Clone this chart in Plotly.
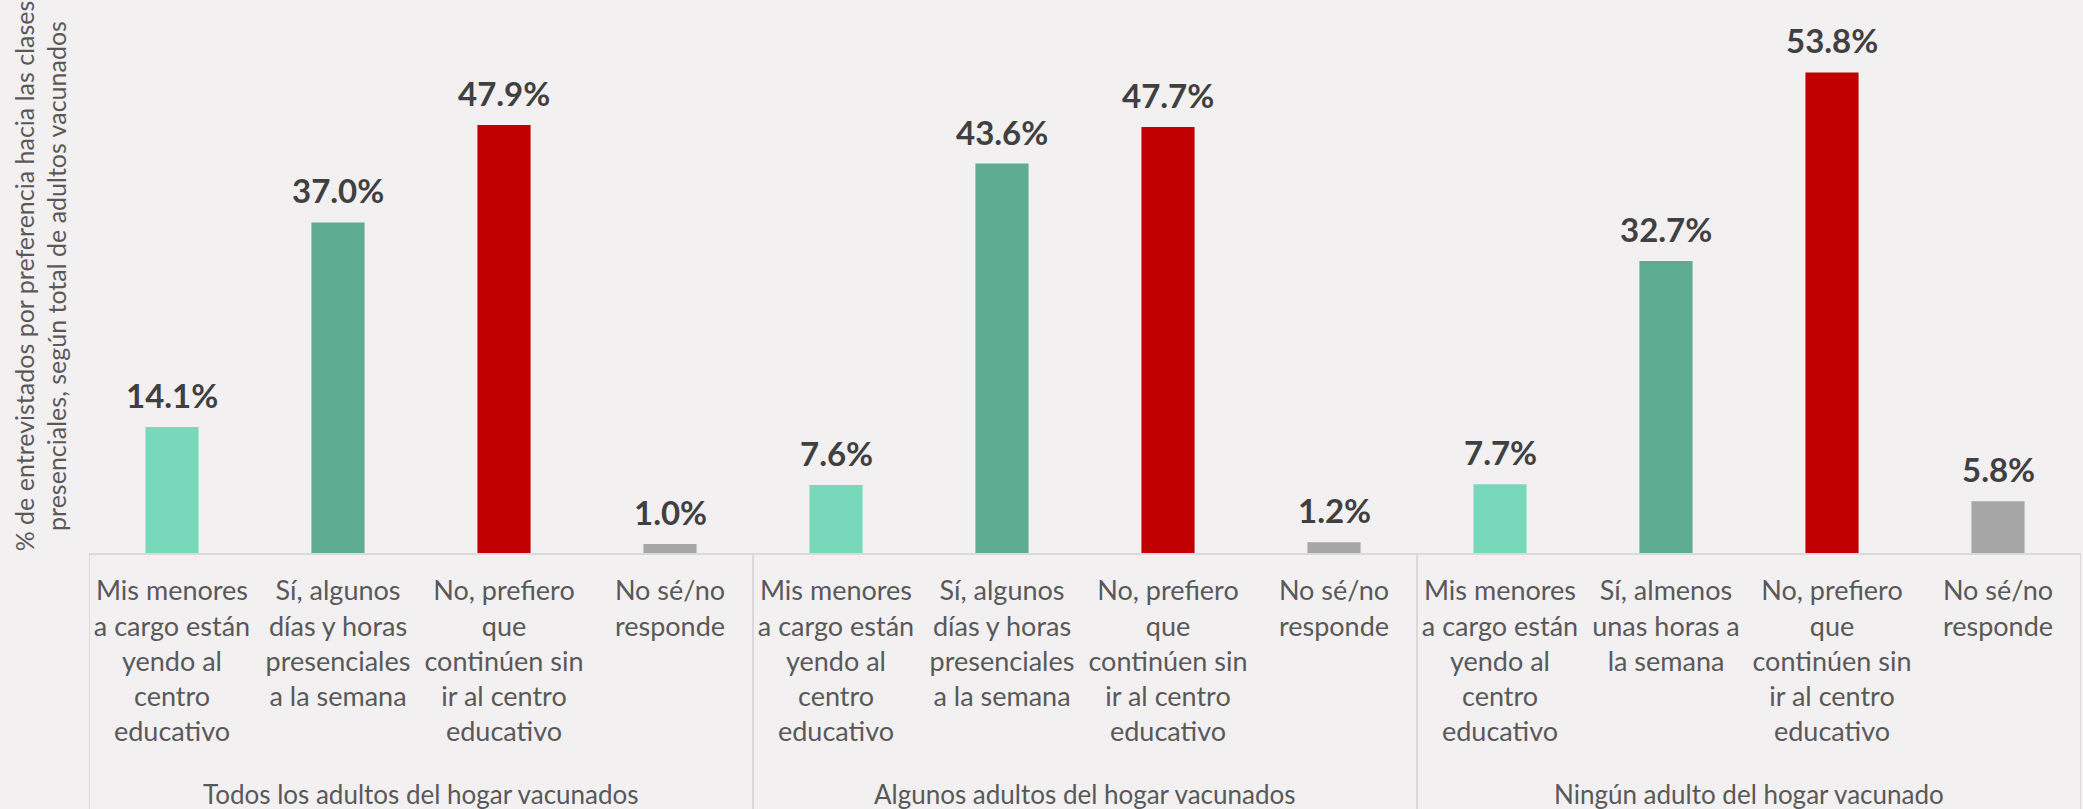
import plotly.graph_objects as go

# ---- data ----
groups = [
    "Todos los adultos del hogar vacunados",
    "Algunos adultos del hogar vacunados",
    "Ningún adulto del hogar vacunado",
]
cat_labels_g1 = [
    "Mis menores<br>a cargo están<br>yendo al<br>centro<br>educativo",
    "Sí, algunos<br>días y horas<br>presenciales<br>a la semana",
    "No, prefiero<br>que<br>continúen sin<br>ir al centro<br>educativo",
    "No sé/no<br>responde",
]
cat_labels_g2 = list(cat_labels_g1)
cat_labels_g3 = [
    "Mis menores<br>a cargo están<br>yendo al<br>centro<br>educativo",
    "Sí, almenos<br>unas horas a<br>la semana",
    "No, prefiero<br>que<br>continúen sin<br>ir al centro<br>educativo",
    "No sé/no<br>responde",
]
values_g1 = [14.1, 37.0, 47.9, 1.0]
values_g2 = [7.6, 43.6, 47.7, 1.2]
values_g3 = [7.7, 32.7, 53.8, 5.8]

y_title = ("% de entrevistados por preferencia hacia las clases<br>"
           "presenciales, según total de adultos vacunados")

# ---- styles ----
BG = "#F2F0F1"
bar_colors = ["#77D9B9", "#5EAD92", "#C00000", "#A6A6A6"]
LINE = "#D9D9D9"
TXT = "#595959"
LBL = "#404040"
FONT = "Lato"

cat_labels = cat_labels_g1 + cat_labels_g2 + cat_labels_g3
values = values_g1 + values_g2 + values_g3
group_sizes = [len(values_g1), len(values_g2), len(values_g3)]
idx = list(range(len(values)))
colors = [bar_colors[i % 4] for i in range(len(values))]

fig = go.Figure()
fig.add_trace(go.Bar(
    x=idx, y=values, width=0.32,
    marker=dict(color=colors, line=dict(width=0)),
    hoverinfo="skip",
))

# value labels
for xi, v in zip(idx, values):
    fig.add_annotation(
        x=xi, y=v, xref="x", yref="y", text=f"<b>{v:.1f}%</b>",
        showarrow=False, yanchor="bottom", yshift=10,
        font=dict(family=FONT, size=33, color=LBL),
    )

# group labels and dividers
start = 0
bounds = [-0.5]
for g, n in zip(groups, group_sizes):
    center = start + (n - 1) / 2
    fig.add_annotation(
        x=center, y=-0.449, xref="x", yref="paper", text=g,
        showarrow=False, yanchor="middle",
        font=dict(family=FONT, size=26, color=TXT),
    )
    start += n
    bounds.append(start - 0.5)
for b in bounds:
    fig.add_shape(type="line", xref="x", yref="paper", x0=b, x1=b,
                  y0=0, y1=-0.48, line=dict(color=LINE, width=2))

# y title
fig.add_annotation(
    x=-0.0246, y=0.518, xref="paper", yref="paper", text=y_title,
    textangle=-90, showarrow=False, xanchor="center", yanchor="middle",
    font=dict(family=FONT, size=25, color=TXT),
)

fig.update_layout(
    width=2083, height=809,
    margin=dict(l=89, r=2, t=17, b=256),
    paper_bgcolor=BG, plot_bgcolor=BG,
    font=dict(family=FONT, color=TXT),
    showlegend=False,
    xaxis=dict(
        tickmode="array", tickvals=idx, ticktext=cat_labels,
        range=[-0.5, len(values) - 0.5],
        showline=True, linecolor=LINE, linewidth=2,
        ticks="", showgrid=False, zeroline=False,
        tickfont=dict(family=FONT, size=27, color=TXT),
        ticklabelstandoff=13,
    ),
    yaxis=dict(range=[0, 60], visible=False),
)

fig.write_html(
    "out.html",
    config={"displayModeBar": False},
    post_script="document.body.style.margin='0px';document.body.style.background='%s';" % BG,
)
